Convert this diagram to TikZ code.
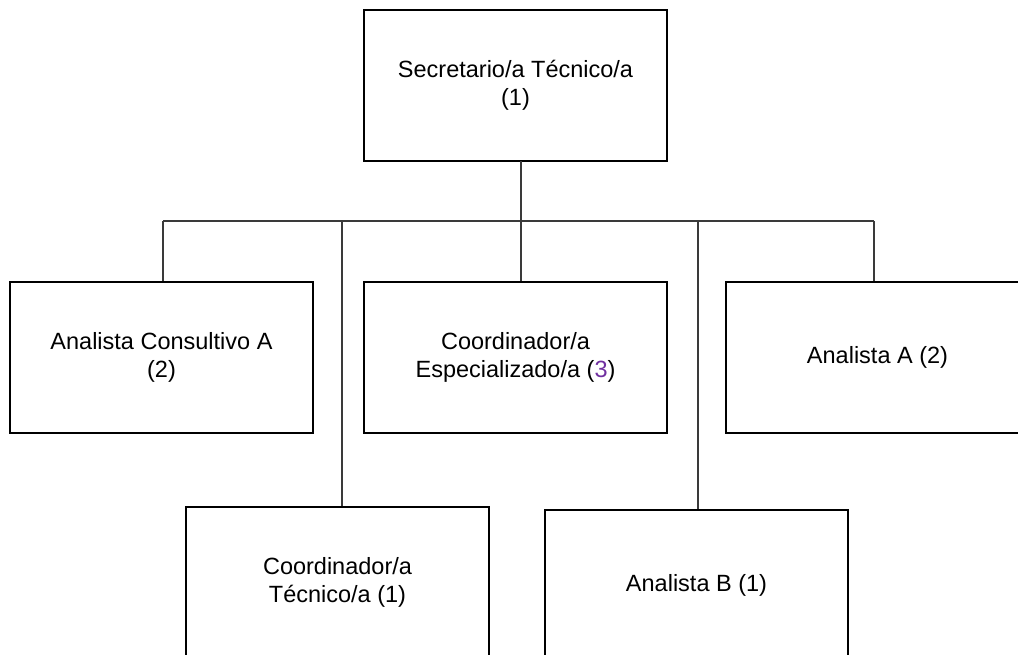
\documentclass[tikz,border=0pt]{standalone}
\usepackage{fontspec}
\setmainfont{Liberation Sans}
\definecolor{numpurple}{HTML}{7030A0}
\definecolor{linegray}{HTML}{3A3A3A}
\begin{document}
\begin{tikzpicture}[x=1pt,y=-1pt,
  orgbox/.style={draw=black,line width=2pt,fill=white,minimum width=303pt,minimum height=151pt,
    inner sep=0pt,align=center,font=\fontsize{23.5}{28}\selectfont},
  link/.style={draw=linegray,line width=1.4pt}]
\useasboundingbox (0,0) rectangle (1018,654);
\clip (0,0) rectangle (1018,654);
\fill[white] (0,0) rectangle (1018,654);
% connectors first
\coordinate (hub) at (521,161);
\coordinate (bus) at (521,221);
\coordinate (busL) at (163,221);
\coordinate (busR) at (874,221);
\coordinate (busA) at (342,221);
\coordinate (busB) at (698,221);
% boxes
\node[orgbox] (top) at (515.5,85.5) {Secretario/a Técnico/a\\(1)};
\node[orgbox] (b1) at (161.5,357) {Analista Consultivo A\\(2)};
\node[orgbox] (b2) at (515.5,357.5) {Coordinador/a\\Especializado/a ({\color{numpurple}3})};
\node[orgbox] (b3) at (877.5,357.5) {Analista A (2)};
\node[orgbox] (b4) at (337.5,582.5) {Coordinador/a\\Técnico/a (1)};
\node[orgbox] (b5) at (696.5,585.5) {Analista B (1)};
% lines
\draw[link] (hub) -- (bus);
\draw[link] (busL) -- (busR);
\draw[link] (busL) -- (busL |- b1.north);
\draw[link] (bus) -- (bus |- b2.north);
\draw[link] (busR) -- (busR |- b3.north);
\draw[link] (busA) -- (busA |- b4.north);
\draw[link] (busB) -- (busB |- b5.north);
\end{tikzpicture}
\end{document}
